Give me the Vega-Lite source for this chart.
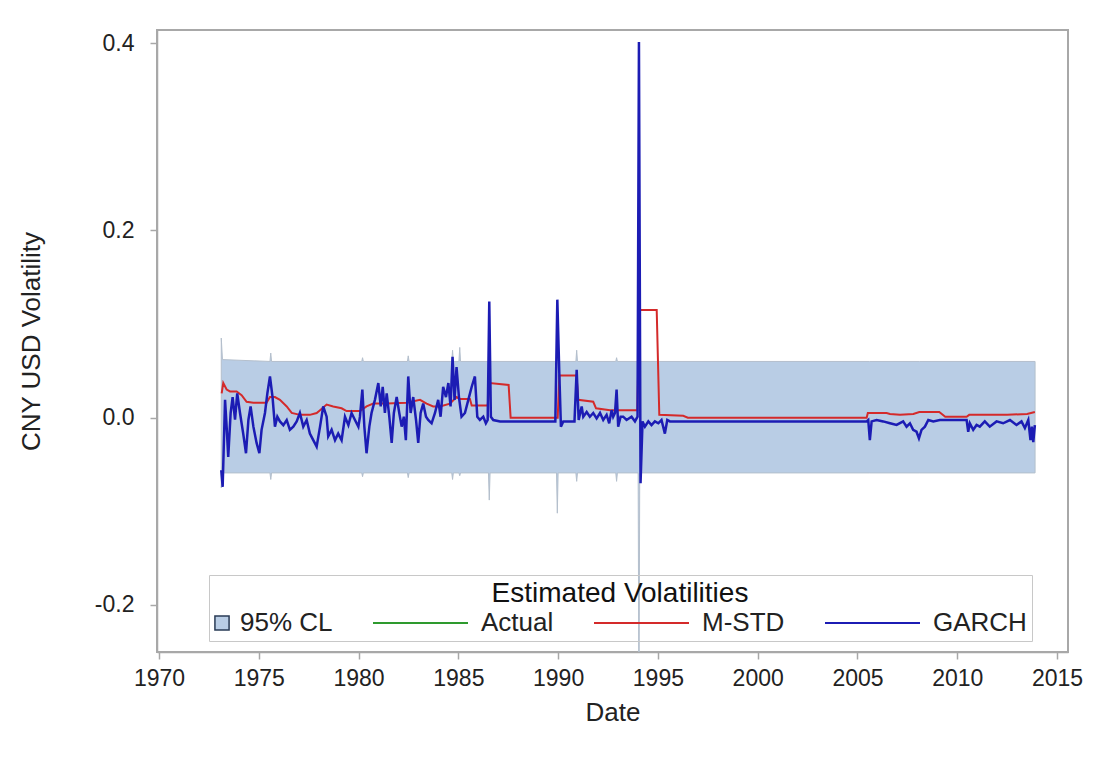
{
  "$schema": "https://vega.github.io/schema/vega-lite/v6.json",
  "width": 911,
  "height": 622,
  "autosize": {"type": "none"},
  "padding": {"left": 157, "top": 30, "right": 31, "bottom": 118},
  "background": "white",
  "config": {
    "view": {"stroke": "#a8a8a8", "strokeWidth": 2},
    "axis": {
      "domainColor": "#a8a8a8", "domainWidth": 1.5, "tickColor": "#a8a8a8", "tickWidth": 1.5, "tickSize": 7,
      "grid": false, "labelFont": "Liberation Sans", "titleFont": "Liberation Sans",
      "labelColor": "#222222", "titleColor": "#222222", "titleFontWeight": "normal",
      "labelFontSize": 23, "titleFontSize": 26
    }
  },
  "datasets": {
    "band": [
      {"t": 1973.12, "lo": -0.075, "hi": 0.085},
      {"t": 1973.18, "lo": -0.059, "hi": 0.062},
      {"t": 1975.56, "lo": -0.059, "hi": 0.06},
      {"t": 1975.6, "lo": -0.066, "hi": 0.069},
      {"t": 1975.64, "lo": -0.059, "hi": 0.06},
      {"t": 1980.16, "lo": -0.059, "hi": 0.06},
      {"t": 1980.2, "lo": -0.063, "hi": 0.064},
      {"t": 1980.24, "lo": -0.059, "hi": 0.06},
      {"t": 1982.45, "lo": -0.059, "hi": 0.06},
      {"t": 1982.49, "lo": -0.064, "hi": 0.066},
      {"t": 1982.53, "lo": -0.059, "hi": 0.06},
      {"t": 1984.67, "lo": -0.059, "hi": 0.06},
      {"t": 1984.71, "lo": -0.066, "hi": 0.072},
      {"t": 1984.75, "lo": -0.059, "hi": 0.06},
      {"t": 1985.03, "lo": -0.059, "hi": 0.06},
      {"t": 1985.07, "lo": -0.062, "hi": 0.075},
      {"t": 1985.11, "lo": -0.059, "hi": 0.06},
      {"t": 1986.51, "lo": -0.059, "hi": 0.06},
      {"t": 1986.55, "lo": -0.088, "hi": 0.064},
      {"t": 1986.59, "lo": -0.059, "hi": 0.06},
      {"t": 1989.92, "lo": -0.059, "hi": 0.06},
      {"t": 1989.96, "lo": -0.102, "hi": 0.064},
      {"t": 1990.0, "lo": -0.059, "hi": 0.06},
      {"t": 1990.89, "lo": -0.059, "hi": 0.06},
      {"t": 1990.93, "lo": -0.068, "hi": 0.072},
      {"t": 1990.97, "lo": -0.059, "hi": 0.06},
      {"t": 1992.89, "lo": -0.059, "hi": 0.06},
      {"t": 1992.93, "lo": -0.068, "hi": 0.064},
      {"t": 1992.97, "lo": -0.059, "hi": 0.06},
      {"t": 1994.01, "lo": -0.059, "hi": 0.06},
      {"t": 1994.05, "lo": -0.32, "hi": 0.4},
      {"t": 1994.09, "lo": -0.059, "hi": 0.06},
      {"t": 2005.6, "lo": -0.059, "hi": 0.06},
      {"t": 2008.1, "lo": -0.059, "hi": 0.06},
      {"t": 2013.9, "lo": -0.059, "hi": 0.06}
    ],
    "mstd": [
      {"t": 1973.14, "v": 0.026}, {"t": 1973.22, "v": 0.037}, {"t": 1973.39, "v": 0.03}, {"t": 1973.56, "v": 0.028},
      {"t": 1973.89, "v": 0.028}, {"t": 1974.14, "v": 0.024}, {"t": 1974.39, "v": 0.017}, {"t": 1974.73, "v": 0.016},
      {"t": 1975.39, "v": 0.016}, {"t": 1975.56, "v": 0.022}, {"t": 1975.81, "v": 0.022}, {"t": 1976.06, "v": 0.019},
      {"t": 1976.4, "v": 0.012}, {"t": 1976.65, "v": 0.005}, {"t": 1977.06, "v": 0.003}, {"t": 1977.56, "v": 0.003},
      {"t": 1977.9, "v": 0.005}, {"t": 1978.07, "v": 0.008}, {"t": 1978.4, "v": 0.014}, {"t": 1978.73, "v": 0.012},
      {"t": 1979.15, "v": 0.01}, {"t": 1979.4, "v": 0.007}, {"t": 1980.07, "v": 0.007}, {"t": 1980.4, "v": 0.012},
      {"t": 1980.74, "v": 0.015}, {"t": 1981.41, "v": 0.015}, {"t": 1982.41, "v": 0.016}, {"t": 1983.08, "v": 0.019},
      {"t": 1983.41, "v": 0.015}, {"t": 1983.74, "v": 0.012}, {"t": 1984.08, "v": 0.012}, {"t": 1984.58, "v": 0.015},
      {"t": 1984.91, "v": 0.022}, {"t": 1985.08, "v": 0.02}, {"t": 1985.58, "v": 0.02}, {"t": 1985.67, "v": 0.013},
      {"t": 1986.47, "v": 0.013}, {"t": 1986.58, "v": 0.037}, {"t": 1987.52, "v": 0.035}, {"t": 1987.62, "v": 0.0},
      {"t": 1989.98, "v": 0.0}, {"t": 1990.06, "v": 0.045}, {"t": 1990.92, "v": 0.045}, {"t": 1991.01, "v": 0.019},
      {"t": 1991.76, "v": 0.017}, {"t": 1991.9, "v": 0.01}, {"t": 1992.6, "v": 0.008}, {"t": 1993.97, "v": 0.008},
      {"t": 1994.07, "v": 0.115}, {"t": 1994.94, "v": 0.115}, {"t": 1995.07, "v": 0.003}, {"t": 1996.27, "v": 0.002},
      {"t": 1996.5, "v": 0.0}, {"t": 2005.46, "v": 0.0}, {"t": 2005.52, "v": 0.005}, {"t": 2006.46, "v": 0.005},
      {"t": 2006.63, "v": 0.004}, {"t": 2007.13, "v": 0.003}, {"t": 2007.8, "v": 0.004}, {"t": 2008.1, "v": 0.006},
      {"t": 2009.1, "v": 0.006}, {"t": 2009.4, "v": 0.001}, {"t": 2010.47, "v": 0.001}, {"t": 2010.6, "v": 0.003},
      {"t": 2012.5, "v": 0.003}, {"t": 2013.5, "v": 0.004}, {"t": 2013.89, "v": 0.006}
    ],
    "garch": [
      {"t": 1973.12, "v": -0.056}, {"t": 1973.19, "v": -0.074}, {"t": 1973.31, "v": 0.019}, {"t": 1973.39, "v": -0.01},
      {"t": 1973.47, "v": -0.042}, {"t": 1973.59, "v": 0.005}, {"t": 1973.69, "v": 0.022}, {"t": 1973.81, "v": -0.002},
      {"t": 1973.92, "v": 0.026}, {"t": 1974.06, "v": 0.005}, {"t": 1974.22, "v": -0.017}, {"t": 1974.36, "v": -0.038},
      {"t": 1974.48, "v": -0.0025}, {"t": 1974.59, "v": 0.012}, {"t": 1974.73, "v": -0.0096}, {"t": 1974.89, "v": -0.027},
      {"t": 1975.03, "v": -0.038}, {"t": 1975.14, "v": -0.013}, {"t": 1975.31, "v": 0.005}, {"t": 1975.43, "v": 0.026},
      {"t": 1975.56, "v": 0.044}, {"t": 1975.69, "v": 0.022}, {"t": 1975.81, "v": -0.0096}, {"t": 1975.93, "v": 0.001},
      {"t": 1976.06, "v": -0.004}, {"t": 1976.23, "v": -0.008}, {"t": 1976.4, "v": -0.0025}, {"t": 1976.56, "v": -0.013},
      {"t": 1976.73, "v": -0.0096}, {"t": 1976.9, "v": -0.004}, {"t": 1977.06, "v": 0.005}, {"t": 1977.23, "v": -0.0096},
      {"t": 1977.4, "v": -0.0025}, {"t": 1977.56, "v": -0.017}, {"t": 1977.73, "v": -0.024}, {"t": 1977.9, "v": -0.031},
      {"t": 1978.07, "v": -0.0096}, {"t": 1978.23, "v": 0.012}, {"t": 1978.4, "v": 0.001}, {"t": 1978.48, "v": -0.02},
      {"t": 1978.65, "v": -0.013}, {"t": 1978.82, "v": -0.024}, {"t": 1978.98, "v": -0.017}, {"t": 1979.15, "v": -0.024},
      {"t": 1979.32, "v": 0.001}, {"t": 1979.49, "v": -0.008}, {"t": 1979.65, "v": 0.005}, {"t": 1979.82, "v": -0.0025},
      {"t": 1979.99, "v": -0.0096}, {"t": 1980.07, "v": 0.001}, {"t": 1980.19, "v": 0.03}, {"t": 1980.29, "v": -0.0096},
      {"t": 1980.4, "v": -0.038}, {"t": 1980.54, "v": -0.0096}, {"t": 1980.65, "v": 0.005}, {"t": 1980.82, "v": 0.019},
      {"t": 1980.99, "v": 0.037}, {"t": 1981.11, "v": 0.012}, {"t": 1981.21, "v": 0.033}, {"t": 1981.32, "v": 0.005},
      {"t": 1981.41, "v": 0.026}, {"t": 1981.54, "v": 0.001}, {"t": 1981.66, "v": -0.027}, {"t": 1981.77, "v": 0.005},
      {"t": 1981.91, "v": 0.022}, {"t": 1982.04, "v": 0.005}, {"t": 1982.16, "v": -0.0096}, {"t": 1982.27, "v": 0.001},
      {"t": 1982.37, "v": -0.024}, {"t": 1982.49, "v": 0.044}, {"t": 1982.61, "v": 0.005}, {"t": 1982.74, "v": 0.022},
      {"t": 1982.88, "v": -0.0025}, {"t": 1982.99, "v": -0.027}, {"t": 1983.11, "v": 0.005}, {"t": 1983.24, "v": 0.015},
      {"t": 1983.38, "v": 0.001}, {"t": 1983.49, "v": -0.0025}, {"t": 1983.66, "v": -0.006}, {"t": 1983.83, "v": 0.005},
      {"t": 1983.99, "v": 0.019}, {"t": 1984.11, "v": 0.001}, {"t": 1984.24, "v": 0.033}, {"t": 1984.38, "v": 0.022},
      {"t": 1984.5, "v": 0.037}, {"t": 1984.61, "v": 0.012}, {"t": 1984.71, "v": 0.065}, {"t": 1984.81, "v": 0.019},
      {"t": 1984.91, "v": 0.054}, {"t": 1985.03, "v": 0.022}, {"t": 1985.16, "v": 0.001}, {"t": 1985.33, "v": 0.005},
      {"t": 1985.5, "v": 0.019}, {"t": 1985.67, "v": 0.033}, {"t": 1985.83, "v": 0.044}, {"t": 1985.95, "v": 0.001},
      {"t": 1986.08, "v": -0.0025}, {"t": 1986.25, "v": 0.001}, {"t": 1986.38, "v": -0.006}, {"t": 1986.47, "v": -0.0025},
      {"t": 1986.55, "v": 0.124}, {"t": 1986.63, "v": 0.001}, {"t": 1986.75, "v": -0.0025}, {"t": 1987.09, "v": -0.004},
      {"t": 1989.86, "v": -0.004}, {"t": 1989.96, "v": 0.126}, {"t": 1990.06, "v": 0.047}, {"t": 1990.14, "v": -0.0096},
      {"t": 1990.26, "v": -0.004}, {"t": 1990.82, "v": -0.004}, {"t": 1990.93, "v": 0.051}, {"t": 1991.03, "v": -0.0025},
      {"t": 1991.18, "v": 0.012}, {"t": 1991.26, "v": 0.001}, {"t": 1991.43, "v": 0.006}, {"t": 1991.59, "v": 0.001},
      {"t": 1991.76, "v": 0.005}, {"t": 1991.93, "v": -0.0007}, {"t": 1992.1, "v": 0.005}, {"t": 1992.26, "v": -0.0025},
      {"t": 1992.43, "v": 0.003}, {"t": 1992.56, "v": -0.006}, {"t": 1992.68, "v": 0.008}, {"t": 1992.76, "v": 0.001},
      {"t": 1992.85, "v": 0.005}, {"t": 1992.93, "v": 0.03}, {"t": 1993.01, "v": -0.0096}, {"t": 1993.13, "v": 0.001},
      {"t": 1993.26, "v": 0.001}, {"t": 1993.43, "v": -0.0025}, {"t": 1993.68, "v": 0.001}, {"t": 1993.85, "v": -0.004},
      {"t": 1993.98, "v": 0.001}, {"t": 1994.05, "v": 0.401}, {"t": 1994.13, "v": -0.07}, {"t": 1994.23, "v": -0.004},
      {"t": 1994.35, "v": -0.0096}, {"t": 1994.52, "v": -0.004}, {"t": 1994.68, "v": -0.008}, {"t": 1994.85, "v": -0.004},
      {"t": 1995.02, "v": -0.006}, {"t": 1995.18, "v": -0.0025}, {"t": 1995.35, "v": -0.017}, {"t": 1995.47, "v": -0.0025},
      {"t": 1995.6, "v": -0.004}, {"t": 2005.46, "v": -0.004}, {"t": 2005.54, "v": -0.0025}, {"t": 2005.62, "v": -0.024},
      {"t": 2005.71, "v": -0.004}, {"t": 2005.96, "v": -0.0025}, {"t": 2006.29, "v": -0.004}, {"t": 2006.63, "v": -0.006},
      {"t": 2006.96, "v": -0.0078}, {"t": 2007.29, "v": -0.004}, {"t": 2007.46, "v": -0.0096}, {"t": 2007.63, "v": -0.006},
      {"t": 2007.79, "v": -0.013}, {"t": 2007.96, "v": -0.015}, {"t": 2008.08, "v": -0.022}, {"t": 2008.21, "v": -0.013},
      {"t": 2008.38, "v": -0.0096}, {"t": 2008.55, "v": -0.0025}, {"t": 2008.8, "v": -0.004}, {"t": 2009.13, "v": -0.0025},
      {"t": 2010.47, "v": -0.0025}, {"t": 2010.55, "v": -0.015}, {"t": 2010.63, "v": -0.006}, {"t": 2010.8, "v": -0.013},
      {"t": 2010.97, "v": -0.0078}, {"t": 2011.13, "v": -0.0096}, {"t": 2011.38, "v": -0.004}, {"t": 2011.63, "v": -0.0096},
      {"t": 2011.97, "v": -0.004}, {"t": 2012.3, "v": -0.006}, {"t": 2012.64, "v": -0.0025}, {"t": 2012.97, "v": -0.0078},
      {"t": 2013.22, "v": -0.004}, {"t": 2013.39, "v": -0.011}, {"t": 2013.56, "v": -0.0025}, {"t": 2013.67, "v": -0.024},
      {"t": 2013.74, "v": -0.0096}, {"t": 2013.81, "v": -0.026}, {"t": 2013.89, "v": -0.008}
    ]
  },
  "layer": [
    {
      "data": {"name": "band"},
      "mark": {"type": "area", "color": "#b9cde5", "stroke": "#b4bfcc", "strokeWidth": 1, "clip": true},
      "encoding": {
        "x": {"field": "t", "type": "quantitative", "scale": {"domain": [1969.9, 2015.55], "nice": false, "zero": false},
          "axis": {"values": [1970, 1975, 1980, 1985, 1990, 1995, 2000, 2005, 2010, 2015], "format": "d", "title": "Date", "labelPadding": 8, "titlePadding": 9}},
        "y": {"field": "hi", "type": "quantitative", "scale": {"domain": [-0.2502, 0.4139], "nice": false, "zero": false},
          "axis": {"values": [-0.2, 0, 0.2, 0.4], "labelExpr": "replace(format(datum.value, '.1f'), '\u2212', '-')", "title": "CNY USD Volatility", "labelPadding": 16, "titlePadding": 50}},
        "y2": {"field": "lo"}
      }
    },
    {
      "data": {"name": "mstd"},
      "mark": {"type": "line", "strokeWidth": 2, "clip": true},
      "encoding": {
        "x": {"field": "t", "type": "quantitative"},
        "y": {"field": "v", "type": "quantitative"},
        "color": {
          "datum": "M-STD", "type": "nominal",
          "scale": {"domain": ["95% CL", "Actual", "M-STD", "GARCH"], "range": ["#2a3b55", "#2e9a2e", "#d42a2a", "#1c1cb4"]},
          "legend": {
            "orient": "none", "legendX": 52, "legendY": 545, "direction": "horizontal",
            "title": "Estimated Volatilities", "titleAnchor": "middle", "titleFont": "Liberation Sans", "titleFontSize": 28,
            "titleFontWeight": "normal", "titleColor": "#111111", "titlePadding": 2, "titleLimit": 1000,
            "labelFont": "Liberation Sans", "labelFontSize": 26, "labelColor": "#222222", "labelLimit": 500,
            "symbolType": "stroke", "symbolSize": 9025, "symbolStrokeWidth": 2, "columnPadding": 36,
            "strokeColor": "#c8c8c8", "padding": 5,
            "values": ["95% CL", "Actual", "M-STD", "GARCH"],
            "encode": {
              "symbols": {"update": {
                "x": {"signal": "datum.value === '95% CL' ? 8 : 47.5"},
                "shape": {"signal": "datum.value === '95% CL' ? 'square' : 'stroke'"},
                "size": {"signal": "datum.value === '95% CL' ? 200 : 9025"},
                "fill": {"signal": "datum.value === '95% CL' ? '#b9cde5' : 'transparent'"},
                "strokeWidth": {"signal": "datum.value === '95% CL' ? 1.5 : 2"}
              }},
              "labels": {"update": {
                "x": {"signal": "datum.value === '95% CL' ? 26 : 108"},
                "align": {"value": "left"}
              }}
            }
          }
        }
      }
    },
    {
      "data": {"name": "garch"},
      "mark": {"type": "line", "strokeWidth": 2.5, "clip": true},
      "encoding": {
        "x": {"field": "t", "type": "quantitative"},
        "y": {"field": "v", "type": "quantitative"},
        "color": {"datum": "GARCH", "type": "nominal"}
      }
    }
  ]
}
